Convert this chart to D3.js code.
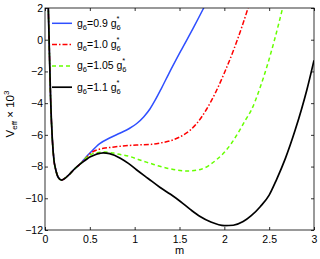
<!DOCTYPE html>
<html>
<head>
<meta charset="utf-8">
<script src="https://cdn.jsdelivr.net/npm/d3@7"></script>
<style>
body { margin: 0; background: #fff; }
svg { display: block; font-family: "Liberation Sans", Arial, sans-serif; }
.axis text { font-size: 10.5px; fill: #000; }
.axis line { stroke: #000; stroke-width: 0.8; }
</style>
</head>
<body>
<div id="chart"></div>
<script>
"use strict";

// shared steep wall + first minimum (all four curves coincide here)
var commonM = [0.03, 0.037, 0.05, 0.063, 0.082, 0.1, 0.12, 0.15, 0.185, 0.22, 0.27, 0.32, 0.39];
var commonV = [3.6, 2.0, -1.0, -3.8, -6.3, -7.6, -8.2, -8.7, -8.85, -8.75, -8.5, -8.2, -7.85];

// g6 = 0.9 g6*
var blueM = [0.43, 0.5, 0.61, 0.72, 0.84, 0.94, 1.02, 1.1, 1.17, 1.23, 1.3, 1.38, 1.52, 1.65, 1.77, 1.85];
var blueV = [-7.58, -7.15, -6.55, -6.2, -5.88, -5.6, -5.3, -4.87, -4.37, -3.8, -3.05, -2.15, -0.65, 0.7, 2.0, 2.9];

// g6 = 1.0 g6*
var redM = [0.45, 0.5, 0.58, 0.65, 0.75, 0.84, 1.02, 1.19, 1.3, 1.41, 1.54, 1.62, 1.69, 1.8, 1.9, 2.0, 2.1, 2.2, 2.27, 2.33];
var redV = [-7.5, -7.2, -6.95, -6.85, -6.78, -6.72, -6.64, -6.6, -6.5, -6.35, -6.02, -5.7, -5.3, -4.4, -3.35, -2.1, -0.7, 0.88, 2.1, 3.2];

// g6 = 1.05 g6*
var greenM = [0.45, 0.5, 0.58, 0.67, 0.76, 0.85, 0.95, 1.04, 1.13, 1.19, 1.26, 1.36, 1.47, 1.6, 1.75, 1.91, 2.0, 2.08, 2.17, 2.23, 2.3, 2.4, 2.48, 2.56, 2.65, 2.7];
var greenV = [-7.5, -7.28, -7.12, -7.08, -7.15, -7.25, -7.37, -7.55, -7.72, -7.82, -7.95, -8.1, -8.22, -8.28, -8.15, -7.58, -7.1, -6.53, -5.72, -5.12, -4.45, -3.0, -1.6, 0.0, 2.0, 3.2];

// g6 = 1.1 g6*
var blackM = [0.45, 0.5, 0.56, 0.61, 0.65, 0.72, 0.84, 0.93, 1.02, 1.15, 1.28, 1.4, 1.51, 1.62, 1.73, 1.85, 2.0, 2.1, 2.21, 2.3, 2.4, 2.5, 2.58, 2.68, 2.79, 2.86, 2.92, 3.0];
var blackV = [-7.6, -7.4, -7.25, -7.17, -7.13, -7.18, -7.47, -7.8, -8.2, -8.75, -9.3, -9.75, -10.2, -10.7, -11.15, -11.5, -11.73, -11.7, -11.47, -11.1, -10.53, -9.8, -8.85, -7.5, -5.7, -4.4, -3.17, -1.3];

var legendFactors = ["0.9", "1.0", "1.05", "1.1"];
var xTicks = [0, 0.5, 1, 1.5, 2, 2.5, 3];
var yTicks = [-12, -10, -8, -6, -4, -2, 0, 2];

var series = [
    {m: blueM, v: blueV, color: "#2f4fff", dash: null, width: 1.5},
    {m: redM, v: redV, color: "#ff0000", dash: "5,2,1.5,2", width: 1.5},
    {m: greenM, v: greenV, color: "#66ff00", dash: "4,3", width: 1.5},
    {m: blackM, v: blackV, color: "#000000", dash: null, width: 1.7}
];

var W = 320, H = 259;
var margin = {top: 8, right: 6, bottom: 29, left: 45};
var width = W - margin.left - margin.right;
var height = H - margin.top - margin.bottom;

var svg = d3.select("#chart").append("svg")
    .attr("width", W)
    .attr("height", H);

var g = svg.append("g")
    .attr("transform", "translate(" + margin.left + "," + margin.top + ")");

var x = d3.scaleLinear().domain([0, 3]).range([0, width]);
var y = d3.scaleLinear().domain([-12, 2]).range([height, 0]);

g.append("clipPath").attr("id", "plotclip")
  .append("rect")
    .attr("width", width)
    .attr("height", height);

var fmt = d3.format("~g");

// axes, ticks pointing inward on all four sides
var xAxis = d3.axisBottom(x).tickValues(xTicks).tickFormat(fmt)
    .tickSize(-3).tickSizeOuter(0).tickPadding(6);
var yAxis = d3.axisLeft(y).tickValues(yTicks).tickFormat(fmt)
    .tickSize(-3).tickSizeOuter(0).tickPadding(2);

g.append("g").attr("class", "axis")
    .attr("transform", "translate(0," + height + ")")
    .call(xAxis);
g.append("g").attr("class", "axis")
    .call(yAxis);
g.append("g").attr("class", "axis")
    .call(d3.axisTop(x).tickValues(xTicks).tickSize(-3).tickSizeOuter(0).tickFormat(""));
g.append("g").attr("class", "axis")
    .attr("transform", "translate(" + width + ",0)")
    .call(d3.axisRight(y).tickValues(yTicks).tickSize(-3).tickSizeOuter(0).tickFormat(""));
g.selectAll(".axis .domain").remove();

var line = d3.line()
    .x(function (d) { return x(d[0]); })
    .y(function (d) { return y(d[1]); })
    .curve(d3.curveMonotoneX);

var curves = g.append("g").attr("clip-path", "url(#plotclip)");

series.forEach(function (s) {
    var pts = commonM.map(function (m, i) { return [m, commonV[i]]; })
        .concat(s.m.map(function (m, i) { return [m, s.v[i]]; }));
    curves.append("path")
        .datum(pts)
        .attr("fill", "none")
        .attr("stroke", s.color)
        .attr("stroke-width", s.width)
        .attr("stroke-dasharray", s.dash)
        .attr("d", line);
});

g.append("rect")
    .attr("width", width)
    .attr("height", height)
    .attr("fill", "none")
    .attr("stroke", "#000")
    .attr("stroke-width", 0.8);

// legend (no box)
var legend = g.append("g").attr("transform", "translate(7,15.3)");
legendFactors.forEach(function (f, i) {
    var row = legend.append("g").attr("transform", "translate(0," + (i * 21.3) + ")");
    row.append("line")
        .attr("x1", 0).attr("x2", 20)
        .attr("stroke", series[i].color)
        .attr("stroke-width", series[i].width)
        .attr("stroke-dasharray", series[i].dash);
    var t = row.append("text")
        .attr("x", 25)
        .attr("y", 3.5)
        .attr("font-size", "10.5px");
    t.append("tspan").text("g");
    t.append("tspan").attr("font-size", "7.5px").attr("dy", 3).text("6");
    t.append("tspan").attr("dy", -3).text("=" + f + " g");
    t.append("tspan").attr("font-size", "7.5px").attr("dy", -6).text("*");
    t.append("tspan").attr("font-size", "7.5px").attr("dx", -2.9).attr("dy", 9).text("6");
});

// axis titles
var ylab = svg.append("text")
    .attr("transform", "translate(14,114) rotate(-90)")
    .attr("text-anchor", "middle")
    .attr("font-size", "11.5px");
ylab.append("tspan").text("V");
ylab.append("tspan").attr("font-size", "8px").attr("dy", 3).text("eff");
ylab.append("tspan").attr("dy", -3).text(" \u00d7 10");
ylab.append("tspan").attr("font-size", "8px").attr("dy", -5).text("3");

svg.append("text")
    .attr("x", margin.left + width / 2)
    .attr("y", 254)
    .attr("text-anchor", "middle")
    .attr("font-size", "11px")
    .text("m");
</script>
</body>
</html>
